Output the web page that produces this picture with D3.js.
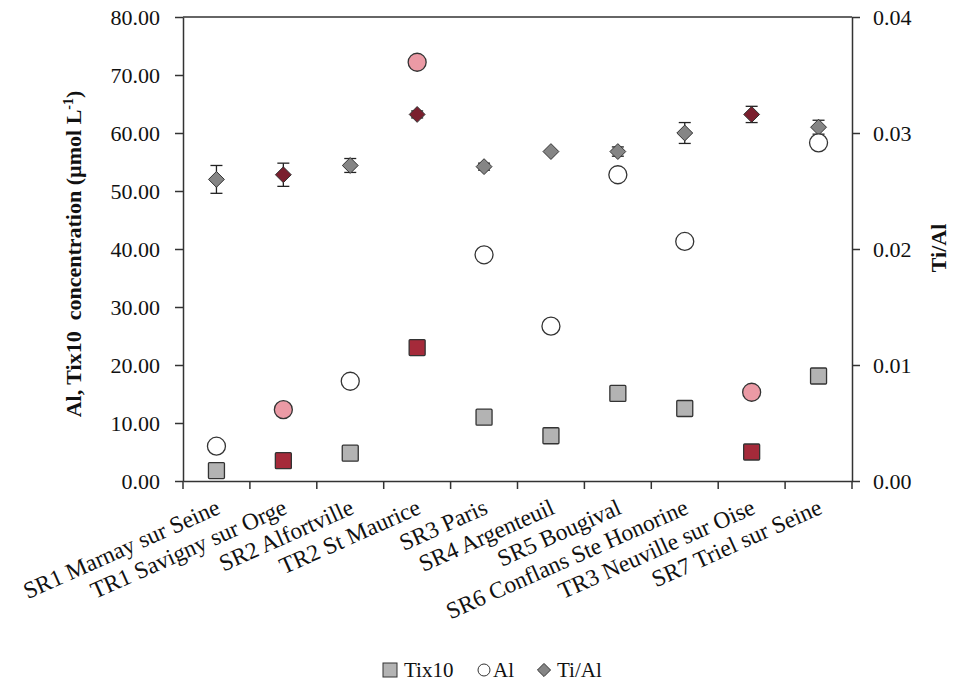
<!DOCTYPE html>
<html>
<head>
<meta charset="utf-8">
<script src="https://cdn.jsdelivr.net/npm/d3@7"></script>
<style>
  body { margin: 0; background: #fff; }
  text { font-family: "Liberation Serif", "Times New Roman", serif; fill: #111; }
</style>
</head>
<body>
<svg id="chart" width="957" height="687"></svg>
<script>
// sites along the river, TR = tributaries (highlighted in red)
const sites = ["SR1 Marnay sur Seine", "TR1 Savigny sur Orge", "SR2 Alfortville", "TR2 St Maurice",
  "SR3 Paris", "SR4 Argenteuil", "SR5 Bougival", "SR6 Conflans Ste Honorine",
  "TR3 Neuville sur Oise", "SR7 Triel sur Seine"];
const tix10 = [1.8, 3.5, 4.8, 23.0, 11.0, 7.8, 15.1, 12.5, 5.0, 18.1];
const al = [6.0, 12.3, 17.2, 72.2, 39.0, 26.7, 52.8, 41.3, 15.3, 58.3];
const tiAl = [0.0260, 0.0264, 0.0272, 0.0316, 0.0271, 0.0284, 0.0284, 0.0300, 0.0316, 0.0305];
const tiAlErr = [0.0012, 0.0010, 0.0006, 0.0003, 0.0003, 0.0001, 0.0004, 0.0009, 0.0007, 0.0006];
const leftTicks = [0, 10, 20, 30, 40, 50, 60, 70, 80];
const rightTicks = [0, 0.01, 0.02, 0.03, 0.04];

const svg = d3.select("#chart");
const m = { left: 183, right: 852, top: 17, bottom: 481 };

const x = d3.scaleBand().domain(sites).range([m.left, m.right]);
const yL = d3.scaleLinear().domain([0, 80]).range([m.bottom, m.top]);
const yR = d3.scaleLinear().domain([0, 0.04]).range([m.bottom, m.top]);
const isTR = d => d.startsWith("TR");
const cx = i => x(sites[i]) + x.bandwidth() / 2;

// top frame line
svg.append("line").attr("x1", m.left).attr("x2", m.right).attr("y1", m.top).attr("y2", m.top)
  .attr("stroke", "#333").attr("stroke-width", 1.5);

// left axis
const gl = svg.append("g").attr("transform", `translate(${m.left},0)`)
  .call(d3.axisLeft(yL).tickValues(leftTicks).tickFormat(d3.format(".2f")).tickSize(8).tickSizeOuter(0));
gl.selectAll("text").attr("font-size", 22).attr("dx", -12);

// right axis
const gr = svg.append("g").attr("transform", `translate(${m.right},0)`)
  .call(d3.axisRight(yR).tickValues(rightTicks).tickFormat(d3.format(".2f")).tickSize(8).tickSizeOuter(0));
gr.selectAll("text").attr("font-size", 22).attr("dx", 10);

// x axis with ticks on category boundaries
const gx = svg.append("g").attr("transform", `translate(0,${m.bottom})`)
  .call(d3.axisBottom(x).tickSize(0).tickSizeOuter(0));
gx.selectAll(".tick text").attr("font-size", 23.5)
  .attr("text-anchor", "end")
  .attr("transform", "translate(5,32) rotate(-24)")
  .attr("dy", 0).attr("y", 0);
gx.selectAll(".bound").data(d3.range(sites.length + 1)).join("line")
  .attr("x1", i => m.left + i * x.step()).attr("x2", i => m.left + i * x.step())
  .attr("y1", 0).attr("y2", 8).attr("stroke", "#333").attr("stroke-width", 1.5);

svg.selectAll(".domain, .tick line").attr("stroke", "#333").attr("stroke-width", 1.5);
svg.selectAll(".tick text").attr("fill", "#111").attr("font-family", "Liberation Serif");

// axis titles
svg.append("text").attr("transform", "translate(81,254) rotate(-90)")
  .attr("text-anchor", "middle").attr("font-size", 22).attr("font-weight", "bold")
  .html('Al, Tix10&#160;&#160;concentration (µmol L<tspan dy="-8" font-size="14">-1</tspan><tspan dy="8">)</tspan>');
svg.append("text").attr("transform", "translate(946,248) rotate(-90)")
  .attr("text-anchor", "middle").attr("font-size", 22).attr("font-weight", "bold").text("Ti/Al");

// Ti/Al error bars
const eb = svg.append("g").attr("stroke", "#222").attr("stroke-width", 1.3);
tiAl.forEach((v, i) => {
  const y1 = yR(v - tiAlErr[i]), y2 = yR(v + tiAlErr[i]), c = cx(i);
  eb.append("line").attr("x1", c).attr("x2", c).attr("y1", y1).attr("y2", y2);
  eb.append("line").attr("x1", c - 6).attr("x2", c + 6).attr("y1", y1).attr("y2", y1);
  eb.append("line").attr("x1", c - 6).attr("x2", c + 6).attr("y1", y2).attr("y2", y2);
});

// Ti/Al diamonds
svg.append("g").selectAll("path").data(tiAl).join("path")
  .attr("d", d3.symbol(d3.symbolDiamond2, 160))
  .attr("transform", (d, i) => `translate(${cx(i)},${yR(d)})`)
  .attr("fill", (d, i) => isTR(sites[i]) ? "#7a1f2e" : "#858585")
  .attr("stroke", "#333").attr("stroke-width", 1);

// Al circles
svg.append("g").selectAll("circle").data(al).join("circle")
  .attr("cx", (d, i) => cx(i)).attr("cy", d => yL(d)).attr("r", 9)
  .attr("fill", (d, i) => isTR(sites[i]) ? "#eb9aa5" : "#fff")
  .attr("stroke", "#333").attr("stroke-width", 1.3);

// Tix10 squares
svg.append("g").selectAll("rect").data(tix10).join("rect")
  .attr("x", (d, i) => cx(i) - 8).attr("y", d => yL(d) - 8)
  .attr("width", 16).attr("height", 16).attr("rx", 1)
  .attr("fill", (d, i) => isTR(sites[i]) ? "#a52a3a" : "#b3b3b3")
  .attr("stroke", "#333").attr("stroke-width", 1.3);

// legend
const lg = svg.append("g").attr("transform", "translate(0,670)");
lg.append("rect").attr("x", 383).attr("y", -7).attr("width", 14).attr("height", 14)
  .attr("fill", "#b3b3b3").attr("stroke", "#333");
lg.append("text").attr("x", 404).attr("y", 7).attr("font-size", 21).text("Tix10");
lg.append("circle").attr("cx", 484).attr("cy", 0).attr("r", 6).attr("fill", "#fff").attr("stroke", "#333");
lg.append("text").attr("x", 493).attr("y", 7).attr("font-size", 21).text("Al");
lg.append("path").attr("d", d3.symbol(d3.symbolDiamond2, 110))
  .attr("transform", "translate(544,0)").attr("fill", "#858585").attr("stroke", "#333");
lg.append("text").attr("x", 557).attr("y", 7).attr("font-size", 21).text("Ti/Al");
</script>
</body>
</html>
